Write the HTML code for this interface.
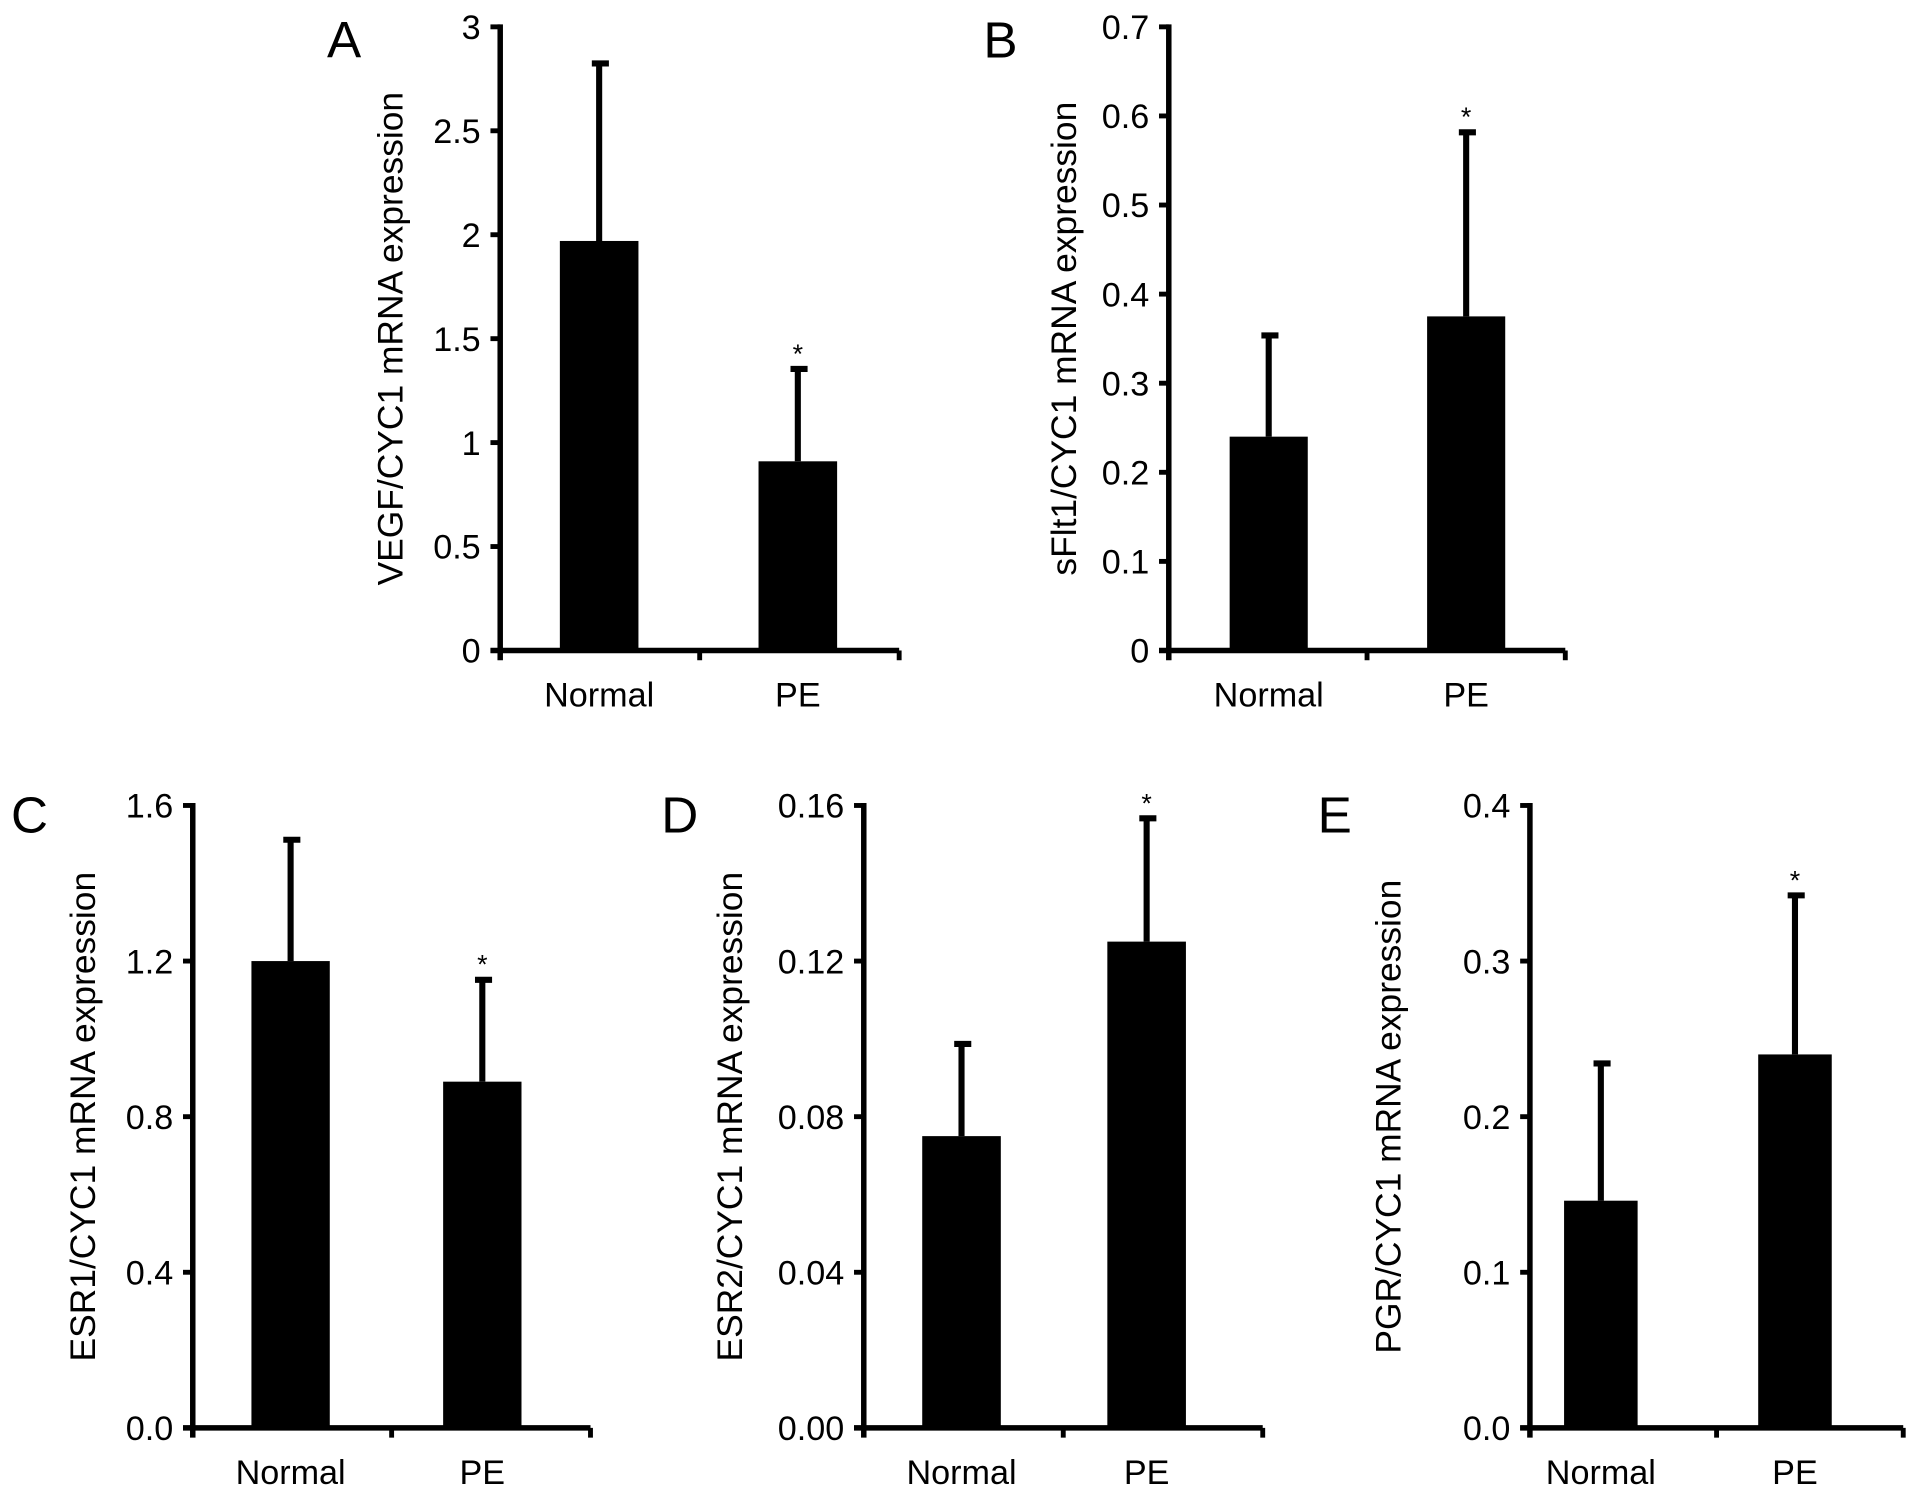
<!DOCTYPE html>
<html><head><meta charset="utf-8">
<style>html,body{margin:0;padding:0;background:#fff;width:1913px;height:1495px;overflow:hidden}
svg{display:block}text{font-family:"Liberation Sans",Arial,sans-serif;fill:#000}</style></head>
<body>
<svg id="fig" width="1913" height="1495" viewBox="0 0 1568 1225" preserveAspectRatio="none" xmlns="http://www.w3.org/2000/svg"></svg>
<script>
const categories = ["Normal", "PE"];
const panelLetters = ["A", "B", "C", "D", "E"];
const panelTitles = ["VEGF/CYC1 mRNA expression","sFlt1/CYC1 mRNA expression","ESR1/CYC1 mRNA expression","ESR2/CYC1 mRNA expression","PGR/CYC1 mRNA expression"];
const meansA = [1.97, 0.91];
const errTopA = [2.83, 1.36];
const meansB = [0.24, 0.375];
const errTopB = [0.355, 0.583];
const meansC = [1.2, 0.89];
const errTopC = [1.515, 1.155];
const meansD = [0.075, 0.125];
const errTopD = [0.099, 0.157];
const meansE = [0.146, 0.24];
const errTopE = [0.235, 0.343];
const ticksA = ["0","0.5","1","1.5","2","2.5","3"];
const ticksB = ["0","0.1","0.2","0.3","0.4","0.5","0.6","0.7"];
const ticksC = ["0.0","0.4","0.8","1.2","1.6"];
const ticksD = ["0.00","0.04","0.08","0.12","0.16"];
const ticksE = ["0.0","0.1","0.2","0.3","0.4"];
const ymaxes = [3, 0.7, 1.6, 0.16, 0.4];
const significant = [false, true];

const NS = "http://www.w3.org/2000/svg";
const svg = document.getElementById("fig");
function mk(tag, attrs, parent){ const e=document.createElementNS(NS,tag); for(const k in attrs) e.setAttribute(k,attrs[k]); (parent||svg).appendChild(e); return e; }

const layout = [
 {ax:410, top:22, zero:533, end:737, lx:268, ly:47, tx:330, f:[0.248,0.746]},
 {ax:958, top:22, zero:533, end:1283, lx:806, ly:47, tx:882, f:[0.252,0.75]},
 {ax:158, top:660, zero:1170, end:484, lx:9, ly:682, tx:78, f:[0.246,0.728]},
 {ax:708, top:660, zero:1170, end:1035, lx:542, ly:682, tx:608, f:[0.245,0.709]},
 {ax:1254, top:660, zero:1170, end:1560, lx:1080, ly:682, tx:1148, f:[0.19,0.71]}
];
const means = [meansA, meansB, meansC, meansD, meansE];
const errs = [errTopA, errTopB, errTopC, errTopD, errTopE];
const ticks = [ticksA, ticksB, ticksC, ticksD, ticksE];

layout.forEach((L, p) => {
  const g = mk("g", {});
  
  
  const ymax = ymaxes[p];
  const y = v => L.zero - (v / ymax) * (L.zero - L.top);
  const w = L.end - L.ax;
  const mid = L.ax + w / 2;
  const xc = i => L.ax + w * L.f[i];
  const bw = w * 0.197;

  const letter = mk("text", {x:L.lx, y:L.ly, "font-size":42}, g);
  letter.textContent = panelLetters[p];
  
  

  const title = mk("text", {x:0, y:0, "font-size":29, "text-anchor":"middle", transform:`translate(${L.tx},${(L.top+L.zero)/2}) rotate(-90)`}, g);
  title.textContent = panelTitles[p];
  
  

  means[p].forEach((m, i) => {
    const bar = mk("rect", {x:xc(i)-bw/2, y:y(m), width:bw, height:L.zero-y(m), fill:"#000"}, g);
    
    
    const e = errs[p][i];
    const el = mk("line", {x1:xc(i), x2:xc(i), y1:y(m), y2:y(e), stroke:"#000", "stroke-width":5}, g);
    
    
    const cap = mk("line", {x1:xc(i)-6, x2:xc(i)+8, y1:y(e)+1, y2:y(e)+1, stroke:"#000", "stroke-width":5}, g);
    
    
    if (significant[i]) {
      const s = mk("text", {x:xc(i), y:y(e)-4, "font-size":22, "text-anchor":"middle"}, g);
      s.textContent = "*";
      
      
    }
    const cl = mk("text", {x:xc(i), y:L.zero+46, "font-size":28, "text-anchor":"middle"}, g);
    cl.textContent = categories[i];
    
    
  });

  const ya = mk("line", {x1:L.ax, x2:L.ax, y1:L.top-2, y2:L.zero+8, stroke:"#000", "stroke-width":4.5}, g);
  
  
  const xa = mk("line", {x1:L.ax-8, x2:L.end, y1:L.zero, y2:L.zero, stroke:"#000", "stroke-width":4.5}, g);
  
  
  [mid, L.end].forEach(xx => {
    const t = mk("line", {x1:xx, x2:xx, y1:L.zero, y2:L.zero+8, stroke:"#000", "stroke-width":4}, g);
    
    
  });
  const n = ticks[p].length;
  ticks[p].forEach((lab, k) => {
    const v = ymax * k / (n - 1);
    const t = mk("line", {x1:L.ax-8, x2:L.ax, y1:y(v), y2:y(v), stroke:"#000", "stroke-width":4}, g);
    
    
    const tl = mk("text", {x:L.ax-16, y:y(v)+10, "font-size":28, "text-anchor":"end"}, g);
    tl.textContent = lab;
    
    
  });
});
</script>
</body></html>
